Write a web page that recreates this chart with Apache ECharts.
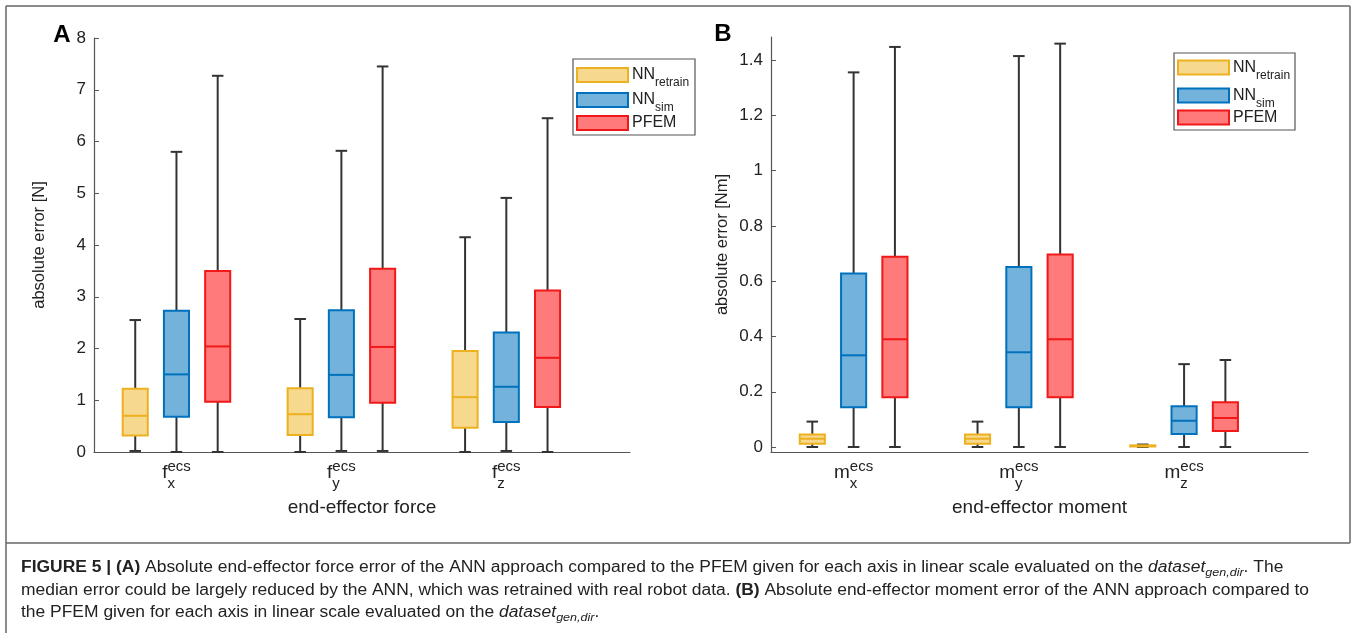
<!DOCTYPE html>
<html><head><meta charset="utf-8">
<script src="https://cdn.jsdelivr.net/npm/echarts@6/dist/echarts.min.js"></script>
<style>html,body{margin:0;padding:0;background:#fff}#c{width:1354px;height:633px}</style>
</head><body><div id="c"></div>
<script>
// ---------- DATA ----------
const seriesNames = ['NN_retrain', 'NN_sim', 'PFEM'];
const legendMain = ['NN', 'NN', 'PFEM'];
const legendSub = ['retrain', 'sim', ''];
const forceSymbol = 'f';
const momentSymbol = 'm';
const categorySup = 'ecs';
const forceSubs = ['x', 'y', 'z'];
const momentSubs = ['x', 'y', 'z'];
const forceAxisName = 'end-effector force';
const momentAxisName = 'end-effector moment';
const forceYName = 'absolute error [N]';
const momentYName = 'absolute error [Nm]';
const forceTicks = [0, 1, 2, 3, 4, 5, 6, 7, 8];
const momentTicks = [0, 0.2, 0.4, 0.6, 0.8, 1, 1.2, 1.4];
// [lower whisker, Q1, median, Q3, upper whisker] per category (x, y, z)
const forceNNretrain = [[0.02, 0.32, 0.70, 1.22, 2.55], [0, 0.33, 0.73, 1.23, 2.57], [0, 0.47, 1.06, 1.95, 4.15]];
const forceNNsim     = [[0, 0.68, 1.50, 2.73, 5.80], [0.02, 0.67, 1.49, 2.74, 5.82], [0.02, 0.58, 1.26, 2.31, 4.91]];
const forcePFEM      = [[0, 0.97, 2.04, 3.50, 7.27], [0.02, 0.95, 2.03, 3.54, 7.45], [0, 0.87, 1.82, 3.12, 6.45]];
const momentNNretrain = [[0, 0.012, 0.03, 0.045, 0.092], [0, 0.012, 0.03, 0.045, 0.092], [0, 0.002, 0.004, 0.006, 0.009]];
const momentNNsim     = [[0, 0.144, 0.332, 0.628, 1.356], [0, 0.144, 0.343, 0.652, 1.415], [0, 0.047, 0.095, 0.148, 0.30]];
const momentPFEM      = [[0, 0.18, 0.39, 0.689, 1.448], [0, 0.18, 0.39, 0.697, 1.46], [0, 0.058, 0.105, 0.162, 0.315]];
const captionLines = [
  '{b|FIGURE 5 | (A)} Absolute end-effector force error of the ANN approach compared to the PFEM given for each axis in linear scale evaluated on the {i|dataset}{is|gen,dir}. The',
  'median error could be largely reduced by the ANN, which was retrained with real robot data. {b|(B)} Absolute end-effector moment error of the ANN approach compared to',
  'the PFEM given for each axis in linear scale evaluated on the {i|dataset}{is|gen,dir}.'
];

// ---------- STYLE ----------
const FONT = '"Liberation Sans", Arial, sans-serif';
const strokeColors = ['#EDB120', '#0072BD', '#F01818'];
const fillColors = ['rgba(237,177,32,0.5)', 'rgba(0,114,189,0.55)', 'rgba(255,0,0,0.52)'];
const WHISKER = '#333';
const AXIS = '#555';
const GROUP_OFFSET = 0.25, BOX_W = 0.152, CAP_W = 0.07;

function boxSeries(name, sIdx, stats, panel) {
  return {
    type: 'custom', name: name, xAxisIndex: panel, yAxisIndex: panel,
    data: stats.map((d, i) => [i + 1].concat(d)),
    encode: { x: 0, y: [1, 2, 3, 4, 5] },
    renderItem: function (params, api) {
      const xv = api.value(0) + (sIdx - 1) * GROUP_OFFSET;
      const cx = api.coord([xv, 0])[0];
      const y = [1, 2, 3, 4, 5].map(k => api.coord([xv, api.value(k)])[1]);
      const bw = api.size([BOX_W, 0])[0];
      const cw = api.size([CAP_W, 0])[0];
      const ws = { stroke: WHISKER, lineWidth: 2 };
      return {
        type: 'group', children: [
          { type: 'line', shape: { x1: cx, y1: y[4], x2: cx, y2: y[3] }, style: ws },
          { type: 'line', shape: { x1: cx, y1: y[1], x2: cx, y2: y[0] }, style: ws },
          { type: 'line', shape: { x1: cx - cw / 2, y1: y[4], x2: cx + cw / 2, y2: y[4] }, style: ws },
          { type: 'line', shape: { x1: cx - cw / 2, y1: y[0], x2: cx + cw / 2, y2: y[0] }, style: ws },
          { type: 'rect', shape: { x: cx - bw / 2, y: y[3], width: bw, height: y[1] - y[3] },
            style: { fill: fillColors[sIdx], stroke: strokeColors[sIdx], lineWidth: 2 } },
          { type: 'line', shape: { x1: cx - bw / 2, y1: y[2], x2: cx + bw / 2, y2: y[2] },
            style: { stroke: strokeColors[sIdx], lineWidth: 2 } }
        ]
      };
    }
  };
}

function xAxisDef(panel, name) {
  return {
    gridIndex: panel, type: 'value', min: 0.5, max: 3.75,
    axisLine: { show: true, onZero: false, lineStyle: { color: AXIS, width: 1.2 } },
    axisTick: { show: false }, axisLabel: { show: false }, splitLine: { show: false },
    name: name, nameLocation: 'middle', nameGap: 46,
    nameTextStyle: { fontSize: 19, color: '#222', fontFamily: FONT }
  };
}
function yAxisDef(panel, name, min, max, ticks, gap) {
  return {
    gridIndex: panel, type: 'value', min: min, max: max,
    axisLine: { show: true, lineStyle: { color: AXIS, width: 1.2 } },
    axisTick: { show: true, inside: true, length: 5, customValues: ticks, lineStyle: { color: AXIS } },
    axisLabel: { customValues: ticks, fontSize: 17, color: '#222', fontFamily: FONT, margin: 8 },
    splitLine: { show: false },
    name: name, nameLocation: 'middle', nameGap: gap, nameRotate: 90,
    nameTextStyle: { fontSize: 16.5, color: '#222', fontFamily: FONT }
  };
}

const chart = echarts.init(document.getElementById('c'));
const forceData = [forceNNretrain, forceNNsim, forcePFEM];
const momentData = [momentNNretrain, momentNNsim, momentPFEM];
chart.setOption({
  animation: false,
  backgroundColor: '#fff',
  grid: [
    { left: 94, top: 38, width: 536, height: 414, containLabel: false, outerBoundsMode: 'none' },
    { left: 771, top: 37, width: 537, height: 415, containLabel: false, outerBoundsMode: 'none' }
  ],
  xAxis: [xAxisDef(0, forceAxisName), xAxisDef(1, momentAxisName)],
  yAxis: [
    yAxisDef(0, forceYName, 0, 8, forceTicks, 46),
    yAxisDef(1, momentYName, -0.018, 1.484, momentTicks, 40)
  ],
  series: seriesNames.map((n, s) => boxSeries(n, s, forceData[s], 0))
    .concat(seriesNames.map((n, s) => boxSeries(n, s, momentData[s], 1)))
});

// ---------- graphics: labels, legends, frame, caption ----------
const cv = document.createElement('canvas').getContext('2d');
function tw(t, size) { cv.font = size + 'px ' + FONT; return cv.measureText(t).width; }
const g = [];
function catLabels(panel, sym, subs) {
  subs.forEach((sub, i) => {
    const p = chart.convertToPixel({ gridIndex: panel }, [i + 1, 0]);
    const base = chart.convertToPixel({ gridIndex: panel }, [i + 1, panel === 0 ? 0 : -0.018])[1];
    const mw = tw(sym, 19), sw = tw(categorySup, 15);
    const left = p[0] - (mw + sw) / 2;
    g.push({ type: 'text', x: left, y: base + 21, style: { text: sym, fontSize: 19, fontFamily: FONT, fill: '#222', align: 'left', verticalAlign: 'middle' } });
    g.push({ type: 'text', x: left + mw, y: base + 15, style: { text: categorySup, fontSize: 15, fontFamily: FONT, fill: '#222', align: 'left', verticalAlign: 'middle' } });
    g.push({ type: 'text', x: left + mw, y: base + 32, style: { text: sub, fontSize: 15, fontFamily: FONT, fill: '#222', align: 'left', verticalAlign: 'middle' } });
  });
}
catLabels(0, forceSymbol, forceSubs);
catLabels(1, momentSymbol, momentSubs);

function legend(x, y, w, h, rows) {
  g.push({ type: 'rect', shape: { x: x, y: y, width: w, height: h }, style: { fill: '#fff', stroke: '#555', lineWidth: 1.2 }, z: 10 });
  seriesNames.forEach((n, s) => {
    const cy = rows[s];
    g.push({ type: 'rect', shape: { x: x + 4, y: cy - 7, width: 51, height: 14 }, style: { fill: fillColors[s], stroke: strokeColors[s], lineWidth: 2 }, z: 11 });
    g.push({ type: 'text', x: x + 59, y: cy, z: 11, style: {
      text: '{m|' + legendMain[s] + '}' + (legendSub[s] ? '{s|' + legendSub[s] + '}' : ''),
      align: 'left', verticalAlign: 'middle', fill: '#222',
      rich: { m: { fontSize: 16, fontFamily: FONT, fill: '#222', lineHeight: 20 },
              s: { fontSize: 12, fontFamily: FONT, fill: '#222', lineHeight: 20, padding: [16, 0, 0, 0] } } } });
  });
}
legend(573, 59, 122, 76, [75, 100, 123]);
legend(1174, 53, 121, 77, [67.5, 95.5, 117.5]);

g.push({ type: 'text', x: 62, y: 35, style: { text: 'A', fontSize: 24, fontWeight: 'bold', fontFamily: FONT, fill: '#000', align: 'center', verticalAlign: 'middle' } });
g.push({ type: 'text', x: 723, y: 34, style: { text: 'B', fontSize: 24, fontWeight: 'bold', fontFamily: FONT, fill: '#000', align: 'center', verticalAlign: 'middle' } });

// frame
const fs = { stroke: '#666', lineWidth: 1.5 };
g.push({ type: 'line', shape: { x1: 6, y1: 6, x2: 1350, y2: 6 }, style: fs });
g.push({ type: 'line', shape: { x1: 1350, y1: 6, x2: 1350, y2: 543 }, style: fs });
g.push({ type: 'line', shape: { x1: 6, y1: 543, x2: 1350, y2: 543 }, style: fs });
g.push({ type: 'line', shape: { x1: 6, y1: 6, x2: 6, y2: 633 }, style: fs });

// caption
const capY = [568, 591, 613];
const cs = 16;
captionLines.forEach((t, i) => {
  g.push({ type: 'text', x: 21, y: capY[i], scaleX: 1.09, style: {
    text: t, align: 'left', verticalAlign: 'middle', fontSize: cs, fontFamily: FONT, fill: '#222',
    rich: {
      b: { fontSize: cs, fontFamily: FONT, fontWeight: 'bold', fill: '#222', lineHeight: 20 },
      i: { fontSize: cs, fontFamily: FONT, fontStyle: 'italic', fill: '#222', lineHeight: 20 },
      is: { fontSize: 11.5, fontFamily: FONT, fontStyle: 'italic', fill: '#222', lineHeight: 20, padding: [9, 0, 0, 0] }
    } } });
});

chart.setOption({ graphic: g });
</script>
</body></html>
